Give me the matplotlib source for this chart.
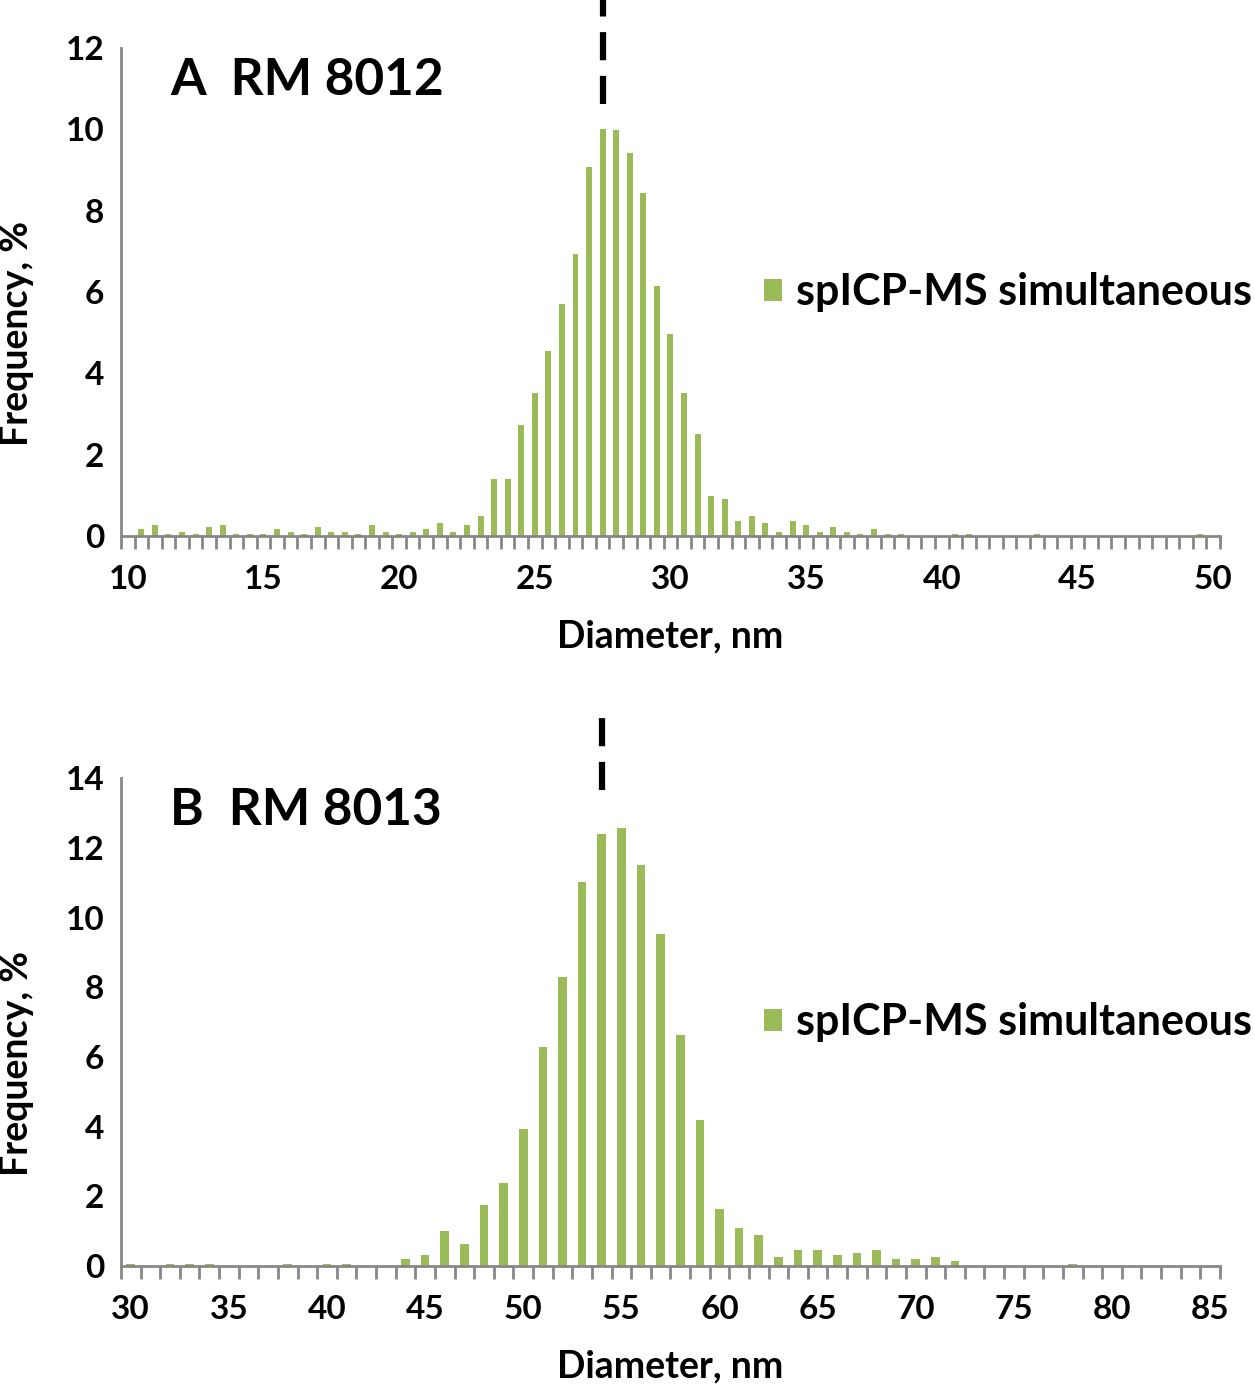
import numpy as np
import matplotlib
matplotlib.use("Agg")
import matplotlib.pyplot as plt

plt.rcParams['font.family'] = ['Lato', 'DejaVu Sans']
plt.rcParams['font.weight'] = 'bold'

# panel A: RM 8012, 0.5 nm bins from 10 to 50 nm
diam_a = np.arange(10.0, 50.01, 0.5)
freq_a = [0, 0.16, 0.26, 0.05, 0.11, 0.05, 0.21, 0.26, 0.05, 0.05,
          0.05, 0.16, 0.11, 0.05, 0.21, 0.11, 0.11, 0.05, 0.26, 0.11,
          0.05, 0.11, 0.16, 0.32, 0.11, 0.26, 0.48, 1.39, 1.39, 2.73,
          3.52, 4.54, 5.71, 6.93, 9.07, 10.02, 9.98, 9.43, 8.43, 6.14,
          4.97, 3.52, 2.52, 0.98, 0.92, 0.38, 0.49, 0.32, 0.11, 0.37,
          0.26, 0.11, 0.21, 0.11, 0.05, 0.16, 0.05, 0.05, 0, 0,
          0, 0.05, 0.05, 0, 0, 0, 0, 0.05, 0, 0,
          0, 0, 0, 0, 0, 0, 0, 0, 0, 0.05, 0]
mean_a = 27.5

# panel B: RM 8013, 1 nm bins from 30 to 85 nm
diam_b = np.arange(30, 86, 1)
freq_b = [0.06, 0, 0.06, 0.06, 0.06, 0, 0, 0, 0.06, 0,
          0.06, 0.06, 0, 0, 0.19, 0.31, 1.0, 0.62, 1.76, 2.37,
          3.94, 6.29, 8.29, 11.02, 12.39, 12.57, 11.52, 9.52, 6.62, 4.19,
          1.64, 1.09, 0.89, 0.26, 0.45, 0.45, 0.31, 0.38, 0.45, 0.19,
          0.19, 0.26, 0.13, 0, 0, 0, 0, 0, 0.06, 0,
          0, 0, 0, 0, 0, 0]
mean_b = 54

green = '#9bbb59'
gray = '#878787'
series_name = 'spICP-MS simultaneous'

fig = plt.figure(figsize=(12.55, 13.85), dpi=100)
ax_a = fig.add_axes([0.0964, 0.613, 0.8757, 0.3523])
ax_b = fig.add_axes([0.0964, 0.0859, 0.8757, 0.3523])


def draw_panel(ax, x, y, step, ymax, title, mean, dash_lo, dash_hi):
    ax.bar(x, y, width=step * 0.44, color=green, label=series_name, zorder=2)
    ax.set_xlim(x[0] - step / 2, x[-1] + step / 2)
    ax.set_ylim(0, ymax)
    ax.set_yticks(np.arange(0, ymax + 0.1, 2))
    ax.set_xticks(np.arange(x[0], x[-1] + 0.01, 5))
    ax.set_xticks(np.arange(x[0] - step / 2, x[-1] + step, step), minor=True)
    ax.tick_params(axis='x', which='major', length=0, pad=21, labelsize=24)
    ax.tick_params(axis='x', which='minor', length=9, width=2, color=gray,
                   direction='out')
    ax.tick_params(axis='y', length=0, pad=12, labelsize=24)
    for s in ['top', 'right']:
        ax.spines[s].set_visible(False)
    for s in ['left', 'bottom']:
        ax.spines[s].set_color(gray)
        ax.spines[s].set_linewidth(2)
    ax.set_xlabel('Diameter, nm', fontsize=27, fontweight='bold', labelpad=18)
    ax.set_ylabel('Frequency, %', fontsize=27, fontweight='bold')
    ax.yaxis.set_label_coords(-0.079, 0.416)
    ax.text(0.045, 0.934, title, transform=ax.transAxes, fontsize=37,
            fontweight='bold', va='center', ha='left')
    ax.axvline(mean, ymin=dash_lo, ymax=dash_hi, color='black', lw=4.5,
               linestyle=(0, (4.5, 2.5)), clip_on=False, zorder=3)
    ax.legend(loc='center left', bbox_to_anchor=(0.5696, 0.5), frameon=False,
              fontsize=31, handlelength=0.42, handleheight=0.42,
              handletextpad=0.33, borderaxespad=0)


draw_panel(ax_a, diam_a, freq_a, 0.5, 12, 'A  RM 8012', mean_a, 0.885, 1.098)
draw_panel(ax_b, diam_b, freq_b, 1.0, 14, 'B  RM 8013', mean_b, 0.975, 1.129)

fig.savefig('out.png', dpi=100)
